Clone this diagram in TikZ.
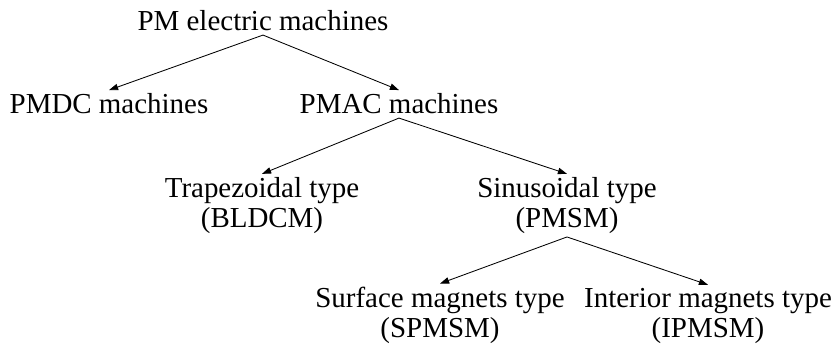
\documentclass[tikz,border=0pt]{standalone}
\usepackage{fontspec}
\setmainfont{Liberation Serif}
\usepackage{tikz}
\usetikzlibrary{arrows.meta,positioning}

\begin{document}
\begin{tikzpicture}
			\tikzstyle{Class}	= [font=\fontsize{20.6}{20.8}\selectfont, align=center, inner sep=2.5pt]
			\tikzstyle{Sub}		= [-{Triangle[length=6.5pt,width=4.5pt]}, line width=0.6pt]

			\useasboundingbox (0,0) rectangle (20.925,8.625);

			% base anchor = baseline of the last line
			\node (pm)    at (6.575,7.85)  [Class][anchor=base] {PM electric machines};
			\node (pmdc)  at (2.725,5.775) [Class][anchor=base] {PMDC machines};
			\node (pmac)  at (9.975,5.775) [Class][anchor=base] {PMAC machines};
			\node (trap)  at (6.55,2.95)   [Class][anchor=base] {Trapezoidal type\\(BLDCM)};
			\node (sinus) at (14.175,2.95) [Class][anchor=base] {Sinusoidal type\\(PMSM)};
			\node (spm)   at (11.0,0.2)    [Class][anchor=base] {Surface magnets type\\(SPMSM)};
			\node (ipm)   at (17.7,0.2)    [Class][anchor=base] {Interior magnets type\\(IPMSM)};

			\draw (pm.south) to (pmdc.north) [Sub];
			\draw (pm.south) to (pmac.north) [Sub];
			\draw (pmac.south) to (trap.north) [Sub];
			\draw (pmac.south) to (sinus.north) [Sub];
			\draw (sinus.south) to (spm.north) [Sub];
			\draw (sinus.south) to (ipm.north) [Sub];
		\end{tikzpicture}
\end{document}
